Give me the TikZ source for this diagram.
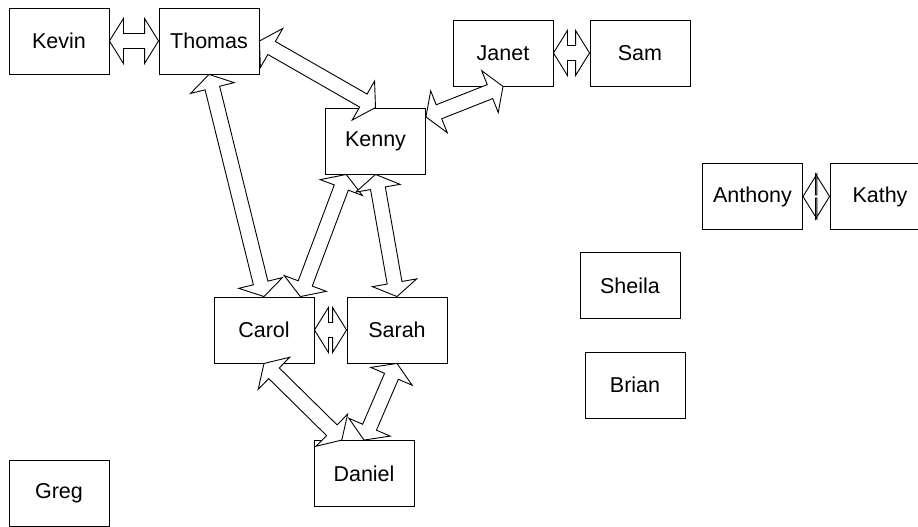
\documentclass[tikz,border=0pt]{standalone}
\usepackage{fontspec}
\setmainfont{Liberation Sans}
\usetikzlibrary{calc}
\newcommand\hl{14pt}
\newcommand\hw{22.5pt}
\newcommand\fatarr[3][7.5pt]{%
 \draw[fat] (#2) -- ($(#2)!\hl!(#3)!\hw!90:(#3)$) -- ($(#2)!\hl!(#3)!#1!90:(#3)$)
  -- ($(#3)!\hl!(#2)!#1!-90:(#2)$) -- ($(#3)!\hl!(#2)!\hw!-90:(#2)$) -- (#3)
  -- ($(#3)!\hl!(#2)!\hw!90:(#2)$) -- ($(#3)!\hl!(#2)!#1!90:(#2)$)
  -- ($(#2)!\hl!(#3)!#1!-90:(#3)$) -- ($(#2)!\hl!(#3)!\hw!-90:(#3)$) -- cycle;}
\begin{document}
\begin{tikzpicture}[x=1pt,y=-1pt,
  person/.style={draw=black,line width=0.9pt,fill=white,minimum width=100pt,minimum height=66pt,inner sep=0pt,font=\fontsize{21.5}{24}\selectfont},
  fat/.style={draw=black,fill=white,line width=0.9pt,line join=miter}]
\useasboundingbox (0,0) rectangle (918,527);
\clip (0,0) rectangle (918,527);
\node[person] (kevin) at (59,41) {Kevin};
\node[person] (thomas) at (209,41) {Thomas};
\node[person] (janet) at (503,53) {Janet};
\node[person] (sam) at (640,53) {Sam};
\node[person] (kenny) at (375.5,141) {Kenny};
\node[person] (anthony) at (752.5,196.5) {Anthony};
\node[person] (kathy) at (880,196.5) {Kathy};
\node[person] (sheila) at (630,285.5) {Sheila};
\node[person] (brian) at (635,385) {Brian};
\node[person] (carol) at (264,330) {Carol};
\node[person] (sarah) at (397,330) {Sarah};
\node[person] (daniel) at (364,473.5) {Daniel};
\node[person] (greg) at (59,493) {Greg};
\coordinate (kennyR) at ($(kenny.north east)!0.14!(kenny.south east)$);
\coordinate (kennyB) at ($(kenny.south west)!0.21!(kenny.south east)$);
\coordinate (carolT) at ($(carol.north west)!0.86!(carol.north east)$);
\coordinate (danielT) at ($(daniel.north west)!0.28!(daniel.north east)$);
\fatarr{kevin.east}{thomas.west}
\fatarr{thomas.east}{kenny.north}
\fatarr{janet.south}{kennyR}
\fatarr{janet.east}{sam.west}
\fatarr{thomas.south}{carol.north}
\fatarr{kennyB}{carolT}
\fatarr{kenny.south}{sarah.north}
\fatarr{carol.east}{sarah.west}
\fatarr{carol.south}{danielT}
\fatarr{sarah.south}{daniel.north}
\fatarr[1.5pt]{anthony.east}{kathy.west}
\end{tikzpicture}
\end{document}
